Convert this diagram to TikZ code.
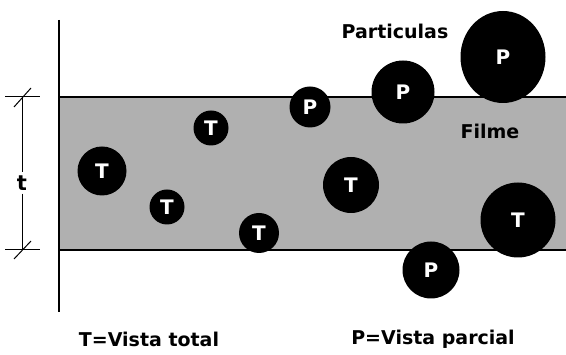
\documentclass[tikz,border=0pt]{standalone}
\usepackage{fontspec}
\setmainfont{DejaVu Sans}
\usetikzlibrary{shapes.geometric}
\begin{document}
\begin{tikzpicture}[x=1pt,y=-1pt,
  part/.style={circle,fill=black,text=white,inner sep=0pt,font=\bfseries\fontsize{20}{20}\selectfont},
  lbl/.style={font=\bfseries\fontsize{19}{19}\selectfont,inner sep=0pt},
  thin/.style={line width=1pt}]
\useasboundingbox (0,0) rectangle (566,355);
% film band
\fill[gray!62] (59,97) rectangle (566,250);
\draw[line width=2.2pt] (566,97) -- (59,97) -- (59,250) -- (566,250);
\draw[line width=1.8pt] (59,20) -- (59,312);
% dimension
\coordinate (dt) at (22,97);
\coordinate (db) at (22,250);
\draw[thin] (5,97) -- (40,97);
\draw[thin] (5,250) -- (40,250);
\draw[thin] (14,107) -- (31,88);
\draw[thin] (14,259) -- (31,241);
\node[lbl,font=\bfseries\fontsize{21}{21}\selectfont,inner sep=3pt] (t) at (22,183) {t};
\draw[thin] (dt) -- (t.north);
\draw[thin] (t.south) -- (db);
% particles
\node[part,minimum size=49pt] (t1) at (102,171) {T};
\node[part,minimum size=35pt] (t2) at (211,128) {T};
\node[part,minimum size=35pt] (t3) at (167,207) {T};
\node[part,minimum size=40pt] (t4) at (259,233) {T};
\node[part,minimum size=56pt] (t5) at (351,185) {T};
\node[part,minimum size=75pt] (t6) at (518,220) {T};
\node[part,minimum size=41pt] (p1) at (310,107) {P};
\node[part,minimum size=63pt] (p2) at (403,92) {P};
\node[part,minimum size=57pt] (p3) at (431,270) {P};
\node[part,ellipse,minimum width=85pt,minimum height=92pt] (p4) at (503,57) {P};
% labels
\node[lbl] (lpart) at (395,31) {Particulas};
\node[lbl] (lfilme) at (490,131) {Filme};
\node[lbl] (lt) at (149,339) {T=Vista total};
\node[lbl] (lp) at (433,339) {P=Vista parcial};
\end{tikzpicture}
\end{document}
